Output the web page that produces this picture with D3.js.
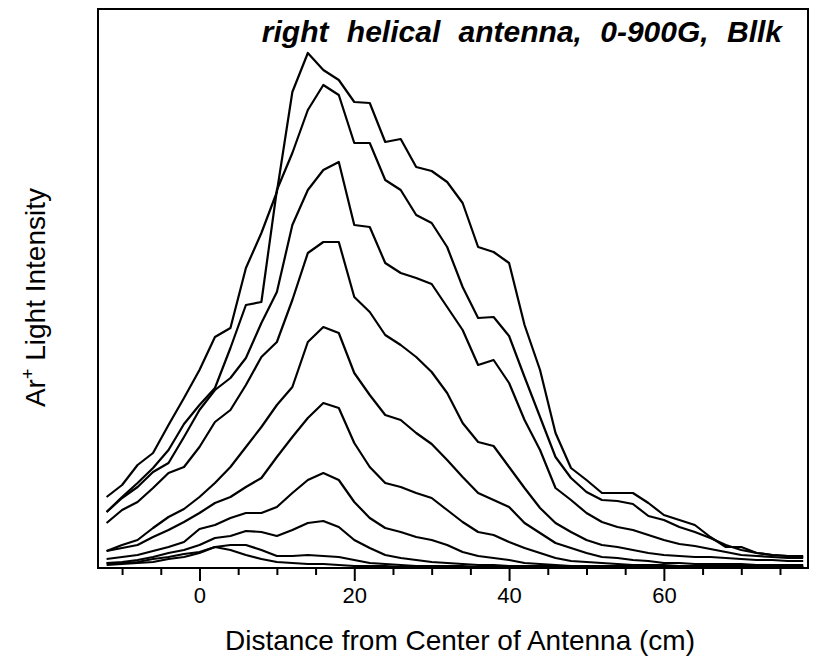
<!DOCTYPE html>
<html lang="en">

<head>
    <meta charset="UTF-8">
    <title>Ar+ light intensity, right helical antenna</title>
    <script src="https://d3js.org/d3.v7.min.js"></script>
    <style>
        body { margin: 0; background: #fff; }
        text { font-family: "Liberation Sans", Arial, sans-serif; fill: #000; }
    </style>
</head>

<body>
    <svg width="817" height="658"></svg>
    <script>
        // position along the antenna (cm), one reading every 2 cm
        const positions = [-12, -10, -8, -6, -4, -2, 0, 2, 4, 6, 8, 10, 12, 14, 16, 18, 20, 22, 24, 26,
            28, 30, 32, 34, 36, 38, 40, 42, 44, 46, 48, 50, 52, 54, 56, 58, 60, 62, 64, 66,
            68, 70, 72, 74, 76, 78];

        // intensity (arb. units), one profile per field step, strongest first
        const curve1 = [71, 83, 103, 115, 143, 170, 198, 231, 240, 300, 335, 376, 476, 515, 498, 488, 466, 465, 426, 429,
            401, 397, 386, 365, 321, 316, 305, 243, 198, 135, 100, 88, 75, 75, 75, 65, 53, 48, 43, 31, 21, 21, 15, 13, 12, 12];
        const curve2 = [56, 71, 85, 100, 118, 144, 163, 180, 220, 263, 266, 378, 415, 458, 483, 473, 425, 425, 388, 378,
            353, 345, 321, 281, 250, 251, 232, 191, 151, 111, 90, 76, 68, 67, 64, 52, 48, 41, 36, 30, 23, 18, 15, 13, 12, 11];
        const curve3 = [56, 70, 81, 96, 105, 131, 158, 178, 190, 210, 245, 276, 343, 378, 398, 406, 343, 341, 305, 295,
            290, 284, 261, 238, 203, 208, 185, 148, 118, 80, 68, 55, 46, 41, 38, 33, 28, 24, 22, 19, 16, 13, 12, 11, 10, 10];
        const curve4 = [45, 58, 66, 80, 95, 101, 121, 146, 158, 183, 211, 226, 268, 315, 326, 326, 271, 256, 233, 223,
            211, 196, 175, 145, 126, 122, 101, 80, 60, 45, 36, 28, 23, 21, 18, 15, 13, 12, 11, 11, 10, 9, 8, 8, 7, 7];
        const curve5 = [17, 23, 28, 40, 51, 59, 71, 85, 101, 121, 141, 163, 181, 226, 241, 235, 195, 173, 153, 148,
            135, 124, 108, 91, 75, 68, 61, 45, 35, 25, 20, 15, 11, 10, 8, 7, 5, 5, 4, 4, 4, 4, 3, 3, 3, 3];
        const curve6 = [17, 20, 23, 31, 38, 46, 55, 65, 71, 81, 90, 111, 131, 150, 165, 160, 125, 101, 85, 81,
            75, 70, 58, 46, 36, 33, 26, 20, 15, 10, 7, 6, 5, 4, 3, 3, 3, 2, 2, 2, 2, 2, 2, 2, 2, 2];
        const curve7 = [9, 11, 13, 17, 21, 26, 39, 43, 50, 55, 55, 61, 75, 88, 95, 88, 66, 50, 40, 36,
            31, 28, 23, 16, 12, 10, 8, 5, 4, 3, 2, 2, 2, 2, 2, 2, 1, 1, 1, 1, 1, 1, 1, 1, 1, 1];
        const curve8 = [5, 6, 8, 11, 15, 18, 23, 30, 32, 37, 36, 32, 38, 45, 47, 41, 28, 20, 13, 10,
            8, 6, 5, 4, 3, 3, 2, 2, 2, 2, 1, 1, 1, 1, 1, 1, 1, 1, 1, 1, 1, 1, 1, 1, 1, 1];
        const curve9 = [5, 5, 6, 9, 11, 14, 16, 21, 23, 23, 18, 12, 12, 13, 12, 11, 8, 5, 4, 3,
            2, 2, 2, 2, 1, 1, 1, 1, 1, 1, 1, 1, 1, 1, 1, 1, 1, 1, 1, 1, 1, 1, 1, 1, 1, 1];
        const curve10 = [3, 4, 5, 6, 9, 11, 15, 21, 18, 13, 9, 6, 5, 4, 4, 3, 2, 2, 2, 1,
            1, 1, 1, 1, 0, 0, 0, 0, 0, 0, 0, 0, 0, 0, 0, 0, 0, 0, 0, 0, 0, 0, 0, 0, 0, 0];
        const curves = [curve1, curve2, curve3, curve4, curve5, curve6, curve7, curve8, curve9, curve10];

        const majorTicks = [0, 20, 40, 60];
        const minorTicks = [-10, -5, 5, 10, 15, 25, 30, 35, 45, 50, 55, 65, 70, 75];

        const plotLeft = 98, plotRight = 808, plotTop = 9, plotBottom = 568;

        const xScale = d3.scaleLinear()
            .domain([-13.11, 78.62])
            .range([plotLeft, plotRight]);

        const yScale = d3.scaleLinear()
            .domain([0, 559])
            .range([plotBottom, plotTop]);

        const svg = d3.select('svg');

        const line = d3.line()
            .x((d, i) => xScale(positions[i]))
            .y(d => yScale(d));

        svg.append('g')
            .selectAll('path')
            .data(curves)
            .enter()
            .append('path')
            .attr('d', line)
            .attr('fill', 'none')
            .attr('stroke', '#000')
            .attr('stroke-width', 2.2)
            .attr('stroke-linejoin', 'round');

        // frame
        svg.append('rect')
            .attr('x', plotLeft)
            .attr('y', plotTop)
            .attr('width', plotRight - plotLeft)
            .attr('height', plotBottom - plotTop)
            .attr('fill', 'none')
            .attr('stroke', '#000')
            .attr('stroke-width', 2);

        // bottom axis: major ticks with labels, minor ticks without
        const xAxis = d3.axisBottom(xScale)
            .tickValues(majorTicks)
            .tickSize(13)
            .tickPadding(6)
            .tickFormat(d3.format('d'));

        const axisG = svg.append('g')
            .attr('transform', `translate(0, ${plotBottom})`)
            .call(xAxis);
        axisG.select('.domain').remove();
        axisG.selectAll('line').attr('stroke', '#000').attr('stroke-width', 2);
        axisG.selectAll('text')
            .attr('font-size', 22)
            .style('font-family', '"Liberation Sans", Arial, sans-serif');

        const minorG = svg.append('g')
            .attr('transform', `translate(0, ${plotBottom})`)
            .call(d3.axisBottom(xScale).tickValues(minorTicks).tickSize(7).tickFormat(''));
        minorG.select('.domain').remove();
        minorG.selectAll('line').attr('stroke', '#000').attr('stroke-width', 2);

        // titles
        svg.append('text')
            .attr('x', 460)
            .attr('y', 650)
            .attr('text-anchor', 'middle')
            .attr('font-size', 28)
            .text('Distance from Center of Antenna (cm)');

        const yTitle = svg.append('text')
            .attr('transform', 'translate(45, 188) rotate(-90)')
            .attr('text-anchor', 'end')
            .attr('font-size', 28);
        yTitle.append('tspan').text('Ar');
        yTitle.append('tspan').attr('font-size', 18).attr('dy', -11).text('+');
        yTitle.append('tspan').attr('dy', 11).text(' Light Intensity');

        svg.append('text')
            .attr('x', 782)
            .attr('y', 42)
            .attr('text-anchor', 'end')
            .attr('font-size', 30)
            .attr('font-weight', 'bold')
            .attr('font-style', 'italic')
            .attr('word-spacing', 10)
            .text('right helical antenna, 0-900G, Bllk');
    </script>
</body>

</html>
